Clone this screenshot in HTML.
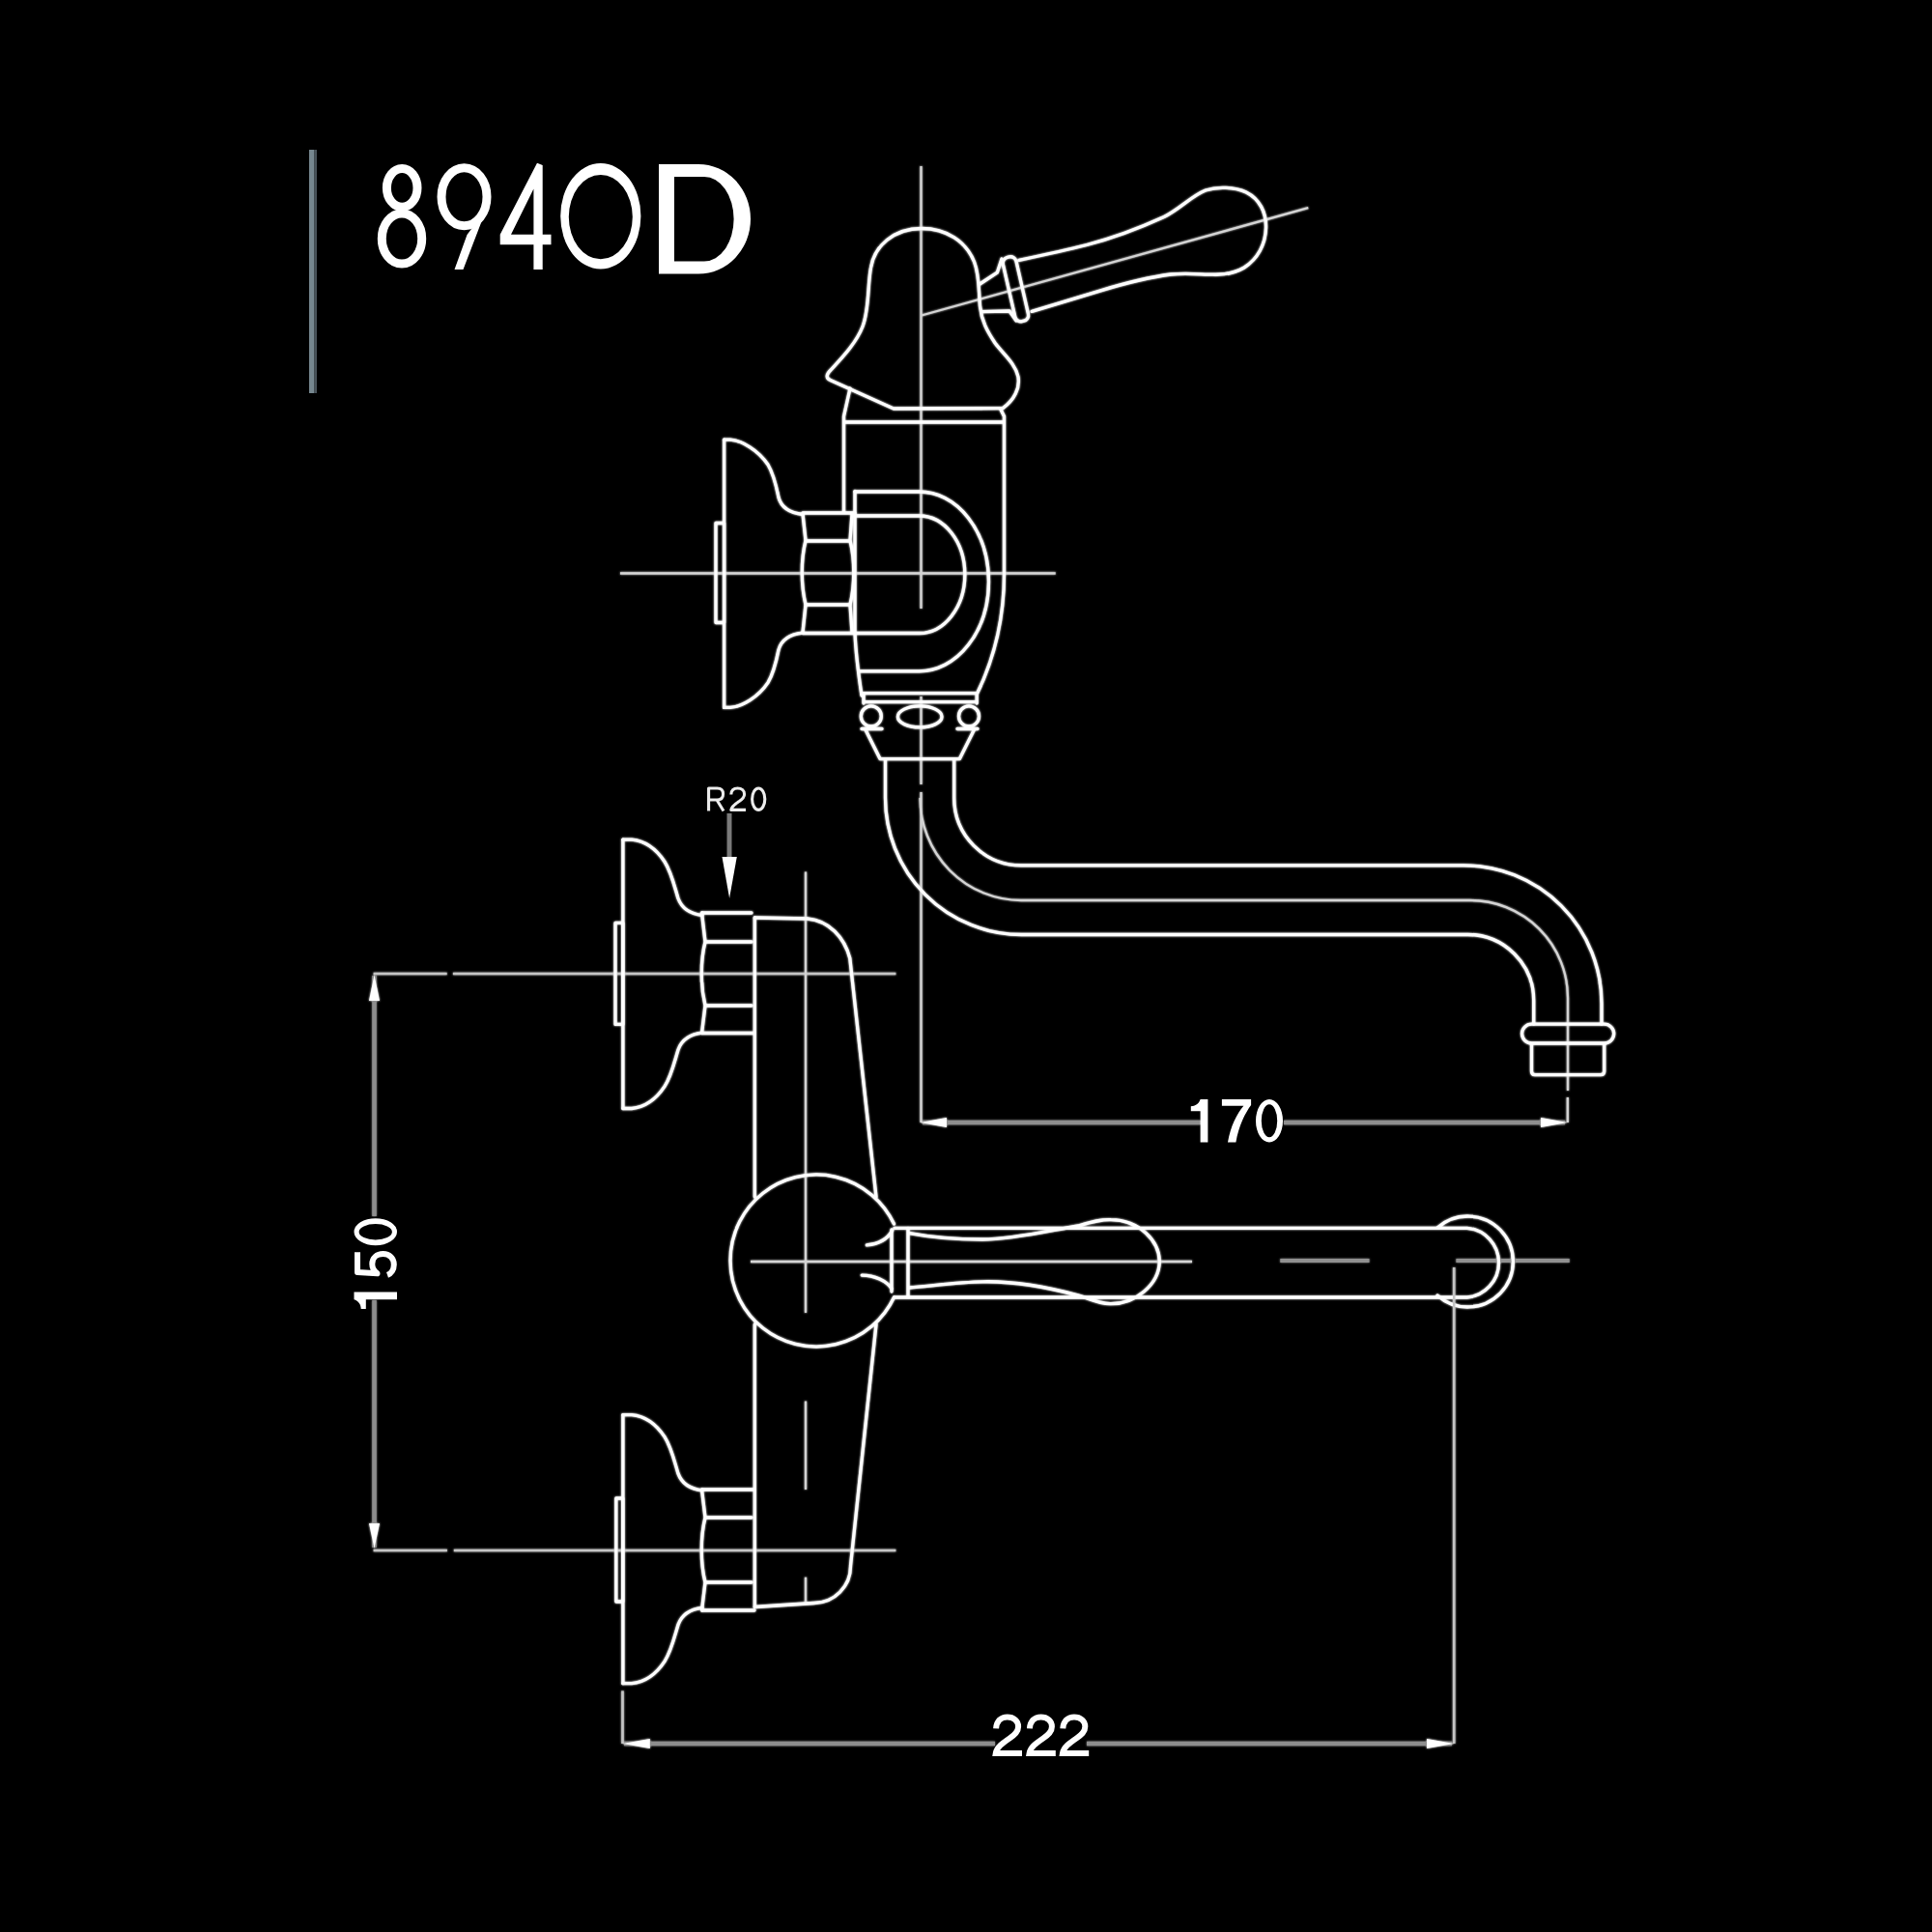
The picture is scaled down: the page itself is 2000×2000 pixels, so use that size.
<!DOCTYPE html>
<html><head><meta charset="utf-8">
<style>
html,body{margin:0;padding:0;background:#000;width:2000px;height:2000px;overflow:hidden}
svg{display:block}
.o{fill:none;stroke:#fff;stroke-width:3.3;stroke-linejoin:round;stroke-linecap:round}
.c{fill:none;stroke:#d4d4d4;stroke-width:2.3}
.k{fill:none;stroke:#909090;stroke-width:4.2}
.d{fill:none;stroke:#8e8e8e;stroke-width:4.5}
.e{fill:none;stroke:#c4c4c4;stroke-width:2.6}
.a{fill:#fff;stroke:none}
.t{font-family:"Liberation Sans",sans-serif;fill:#fff;font-size:62px}
.tt{fill:none;stroke:#fff;stroke-width:9}
</style></head>
<body>
<svg style="will-change:transform" width="2000" height="2000" viewBox="0 0 2000 2000">
<rect x="0" y="0" width="2000" height="2000" fill="#000"/>
<defs>
  <path id="g1" fill="#fff" d="M9.8,-44.5 H17.6 V0 H9.8 V-32.2 H0 V-37.3 C4.5,-37.3 8.5,-40 9.8,-44.5 Z"/>
  <path id="g7" fill="#fff" d="M0,-44.5 H30.2 V-38.4 C24,-30 17.5,-17 14.5,0 H6.1 C9,-17 15.5,-29.5 22.5,-37.8 H0 Z"/>
  <path id="g0" fill="#fff" fill-rule="evenodd" d="M0,-22.25 A14,22.25 0 1 0 28,-22.25 A14,22.25 0 1 0 0,-22.25 Z M5.8,-22.25 A8.2,17.1 0 1 0 22.2,-22.25 A8.2,17.1 0 1 0 5.8,-22.25 Z"/>
  <path id="g5" fill="none" stroke="#fff" stroke-width="6" stroke-linejoin="round" d="M27,-41 H6.2 L5,-20.5 C7.5,-24 11,-25.7 14.8,-25.7 C21.2,-25.7 25.2,-21 25.2,-14.4 C25.2,-7.8 20.8,-3.2 14.3,-3.2 C9,-3.2 4.8,-6 3.4,-10"/>
  <path id="g2" fill="none" stroke="#fff" stroke-width="6" d="M3.8,-28.5 C4.3,-36.5 9,-40.4 15.5,-40.4 C22,-40.4 26.8,-36.5 26.8,-30.5 C26.8,-25 23,-22 18,-18.5 C10,-13 4.5,-9 3.5,-3 H30.7"/>
  <filter id="halo" x="0" y="0" width="2000" height="2000" filterUnits="userSpaceOnUse">
    <feGaussianBlur in="SourceGraphic" stdDeviation="1.1" result="b"/>
    <feComponentTransfer in="b" result="h"><feFuncA type="linear" slope="1.0"/></feComponentTransfer>
    <feMerge><feMergeNode in="h"/><feMergeNode in="SourceGraphic"/></feMerge>
  </filter>
</defs>


<!-- ===== TITLE ===== -->
<g id="title">
  <rect x="320" y="155" width="5.5" height="252" fill="#76878f"/>
  <rect x="325.5" y="155" width="2.5" height="252" fill="#485259"/>
  <!-- 8 -->
  <ellipse class="tt" cx="416.2" cy="194.4" rx="15.8" ry="19.9" stroke-width="8.5"/>
  <ellipse class="tt" cx="416" cy="247" rx="20.7" ry="26.1" stroke-width="8.5"/>
  <!-- 9 -->
  <ellipse class="tt" cx="480.5" cy="203.7" rx="23.5" ry="30" stroke-width="9"/>
  <path fill="#fff" d="M470.5,279 L479.5,279 L504,215 L497,225 L483.5,243 Z"/>
  <!-- 4 -->
  <path fill="#fff" fill-rule="evenodd" d="M556,168.8 L561.7,171 V242.8 H570.5 V253.2 H561.7 V279 H552.4 V253.2 H517.7 V242.8 Z M529,242.8 L552.4,195.5 V242.8 Z"/>
  <!-- 0 -->
  <path fill="#fff" fill-rule="evenodd" d="M580.2,223.75 A41.6,54.65 0 1 0 663.4,223.75 A41.6,54.65 0 1 0 580.2,223.75 Z M588.8,224.6 A33,43.6 0 1 0 654.8,224.6 A33,43.6 0 1 0 588.8,224.6 Z"/>
  <!-- D -->
  <path fill="#fff" fill-rule="evenodd" d="M682,170 L723,170 A54,56.75 0 0 1 777,226.75 A54,56.75 0 0 1 723,283.5 L682,283.5 Z M698,183 L729,183 A30.6,43.75 0 0 1 759.6,226.75 A30.6,43.75 0 0 1 729,270.5 L698,270.5 Z"/>
</g>

<!-- ===== TOP VIEW ===== -->
<g filter="url(#halo)">
<g id="top">
  <!-- centerlines -->
  <path class="c" d="M953.5,172 V630 M953.5,721 V812 M953.5,820 V1162"/>
  <path class="c" d="M642,593.5 H1092.7"/>
  <!-- lever axis -->
  <path class="c" d="M954,326.5 L1354.3,215.2"/>

  <!-- cap -->
  <path class="o" d="M954,236.5 C925,236.5 905,255 901.5,277 C898,295 900,320 893,338 C886,356 870,372 860,383 C855,388 855,391.5 859.5,393.5 L925,423  L1038.1,422.7 C1050,414 1056,402 1054,390 C1051,376 1038,366 1030,355 C1022,343 1016,332 1014.5,317 C1013,300 1014,285 1008.5,271 C1000,250 980,236.5 954,236.5 Z"/>
  <!-- collar + body -->
  <path class="o" d="M880,402 L873.5,431 V530"/>
  <path class="o" d="M1036,424 L1039.5,431 V594 C1039.5,640 1030,680 1011.5,718"/>
  <path class="o" d="M875,437 H1038.5"/>

  <!-- lever neck -->
  <path class="o" d="M1014.3,294 L1032.3,282.2 L1037,268"/>
  <path class="o" d="M1016,322.6 L1045,322 L1052,332"/>
  <rect class="o" x="-7" y="-34" width="14" height="68" rx="6" transform="translate(1051.4,299.3) rotate(-12.9)"/>
  <!-- lever body -->
  <path class="o" d="M1054.9,269.4 C1080,264 1105,258.5 1125,253.5 C1152,246.5 1182,235 1205,224.5 C1222,216 1233,203 1248,197 C1260,193 1278,193.5 1290,199 C1304,206 1311,220 1310.5,236 C1310,253 1302,268 1288,277 C1278,283 1268,284.5 1256,284.2 C1242,284 1228,282.5 1212,284 C1188,287 1162,294 1139.4,300.8 C1125,305 1110,309.5 1068.2,322.4"/>

  <!-- wall flange -->
  <path class="o" d="M749.6,455.2 V732.4"/>
  <rect class="o" x="741" y="541.5" width="8.6" height="103" />
  <path class="o" d="M749.6,455.2 H756 C768,456 785,466 795,481 C801,491 804,505 806,515 C809,526 818,531 831,532.5"/>
  <path class="o" d="M749.6,732.4 H756 C768,731.6 785,721.6 795,706.6 C801,696.6 804,682.6 806,672.6 C809,661.6 818,656.6 831,655.1"/>
  <!-- nut -->
  <path class="o" d="M831,532 L834,559.5 C829,580 829,605 834,626 L831,654.5"/>
  <path class="o" d="M882,532 L880,559.5 C885,580 885,605 880,626 L882,654.5"/>
  <path class="o" d="M831,531 H885 M834.5,560 H880 M834.5,626 H880 M831,655.5 H885"/>

  <!-- D-shape -->
  <path class="o" d="M885,508.5 V655 C886,680 889,700 892,720"/>
  <path class="o" d="M885,509 H951.7 A71.4,92.4 0 0 1 951.7,694.8 H890"/>
  <path class="o" d="M885,534 H951.7 A46.4,59.8 0 0 1 951.7,655.5 H885"/>

  <!-- collar rings -->
  <path class="o" d="M894,717.7 H1011.2 M894,726.6 H1011.2 M894,717.7 V728 M1011.2,717.7 V728 M892,754.5 H913 M991,754.5 H1012"/>
  <ellipse class="o" cx="901.8" cy="741.4" rx="10.5" ry="10.5"/>
  <ellipse class="o" cx="952.2" cy="741.9" rx="22.8" ry="11"/>
  <ellipse class="o" cx="1003" cy="741.4" rx="10.5" ry="10.5"/>
  <path class="o" d="M895.5,754.5 L911,785.6 H993.4 L1008.9,754.5"/>

  <!-- spout -->
  <path class="o" d="M987.7,786 V826 A69.3,69.8 0 0 0 1057,895.8 H1515 A143,143 0 0 1 1658,1038.8 V1060"/>
  <path class="c" d="M952.5,826 A104.5,106 0 0 0 1057,932 H1522 A101,101 0 0 1 1623,1033 V1129 M1622.8,1136 V1162"/>
  <path class="o" d="M916.5,786 V826 A141,141.5 0 0 0 1057.5,967.5 H1519.5 A68.2,68.2 0 0 1 1587.7,1035.7 V1060"/>
  <!-- aerator -->
  <path class="o" d="M1585.5,1060.2 H1660.7 A10,9.9 0 0 1 1660.7,1080 H1585.5 A10,9.9 0 0 1 1585.5,1060.2 Z"/>
  <path class="o" d="M1585.5,1081 V1109 Q1585.5,1112.7 1589,1112.7 H1657 Q1660.7,1112.7 1660.7,1109 V1081"/>

  <!-- dimension 170 -->
  <path class="d" d="M955,1162 H1243 M1329,1162 H1620"/>
  <path class="a" d="M952.5,1162 L980,1157 L980,1167 Z"/>
  <path class="a" d="M1622.6,1162 L1595,1157 L1595,1167 Z"/>
  
</g>

<!-- ===== FRONT VIEW ===== -->
<g id="front">
  <!-- centerlines -->
  <path class="e" d="M386.6,1008 H462.7 M468.9,1008 H927.4"/>
  <path class="e" d="M386.6,1605 H462.9 M469.8,1605 H927.4"/>
  <path class="c" d="M834,902.6 V1359 M834,1450.6 V1542 M834,1632.7 V1660"/>
  <path class="c" d="M777,1306 H1234"/>
  <path class="k" d="M1325.3,1305 H1417.5 M1507.4,1305 H1624.7"/>

  <!-- dim 150 -->
  <path class="d" d="M387.5,1010 V1259 M387.5,1346 V1602"/>
  <path class="a" d="M387.5,1009 L382,1036 L393,1036 Z"/>
  <path class="a" d="M387.5,1603 L382,1577 L393,1577 Z"/>
  

  <!-- upper flange -->
  <path class="o" d="M644.9,869.2 V1147.5"/>
  <rect class="o" x="637" y="955.4" width="7.9" height="105"/>
  <path class="o" d="M644.9,869.2 H654 C668,870.5 680,880 688,892 C695,903 698,917 702,930 C706,941 714,946 727,947.5"/>
  <path class="o" d="M644.9,1147.5 H654 C668,1146.2 680,1136.7 688,1124.7 C695,1113.7 698,1099.7 702,1086.7 C706,1075.7 714,1070.7 727,1069.2"/>
  <!-- upper nut -->
  <path class="o" d="M726.5,945 L730,975 C725,995 725,1020 730,1041 L726.5,1069.5"/>
  <path class="o" d="M727,945 H778 M730.5,975 H778 M730.5,1041 H778 M727,1069.5 H781"/>

  <!-- lower flange -->
  <path class="o" d="M644.9,1464.6 V1742.7"/>
  <rect class="o" x="637.8" y="1551" width="7" height="107"/>
  <path class="o" d="M644.9,1464.6 H654 C668,1465.9 680,1475.4 688,1487.4 C695,1498.4 698,1512.4 702,1525.4 C706,1536.4 714,1541.4 727,1542.9"/>
  <path class="o" d="M644.9,1742.7 H654 C668,1741.4 680,1731.9 688,1719.9 C695,1708.9 698,1694.9 702,1681.9 C706,1670.9 714,1665.9 727,1664.4"/>
  <!-- lower nut -->
  <path class="o" d="M726.5,1542 L730,1571 C725,1591 725,1618 730,1638 L726.5,1667"/>
  <path class="o" d="M727,1542 H781 M730.5,1571 H778 M730.5,1638 H778 M727,1667 H781"/>

  <!-- body -->
  <path class="o" d="M781.3,950 V1239 M781.3,1371 V1663.5"/>
  <path class="o" d="M781.3,950 L835.8,951 C858,953 874,970 879.8,992 L907,1239"/>
  <path class="o" d="M907,1371 L880.5,1621 A38,38 0 0 1 842.5,1659.5 L781.3,1663.5"/>

  <!-- lever base circle -->
  <path class="o" d="M925.5,1267 A89,89 0 1 0 925.5,1343"/>
  <!-- fins -->
  <path class="o" d="M897.3,1288.8 C908,1288 918,1284 923.8,1273.6"/>
  <path class="o" d="M892.2,1320.1 C905,1320 918,1326 923.2,1334.2"/>
  <!-- collar -->
  <path class="o" d="M923,1273 V1337 M940,1271.3 V1342.6"/>
  <path class="o" d="M925.9,1271.3 H1518.8 A36,36 0 0 1 1518.8,1343 H925.9"/>
  <!-- lever -->
  <path class="o" d="M941.6,1276.6 C970,1282 1000,1283 1017,1283 C1050,1283 1090,1273 1116,1269 C1130,1265 1140,1262 1150,1262.6 C1180,1263 1200,1285 1200.3,1305.7 C1200,1330 1175,1350 1149.3,1349.7 C1135,1349 1128,1344 1115.8,1340.9 C1090,1334 1050,1326 1017.3,1326.8 C995,1327 965,1331 941.6,1333"/>
  <!-- pipe end -->
  <path class="o" d="M1488,1271 A47,47 0 1 1 1488,1341"/>

  <!-- dim 222 -->
  <path class="e" d="M644.5,1750.4 V1805"/>
  <path class="e" d="M1505.2,1312 V1805"/>
  <path class="d" d="M646,1805 H1030 M1125,1805 H1503"/>
  <path class="a" d="M644.5,1805 L672.8,1800 L672.8,1810 Z"/>
  <path class="a" d="M1505.2,1805 L1477,1800 L1477,1810 Z"/>
  
</g>
</g>
<g transform="translate(1232.8,1182.5)"><use href="#g1"/><use href="#g7" x="32.1"/><use href="#g0" x="67.2"/></g>
<g transform="translate(411,1359) rotate(-90)"><use href="#g1" x="4"/><use href="#g5" x="35.7"/><use href="#g0" x="69.8"/></g>
<g transform="translate(1027.3,1817.9)"><use href="#g2"/><use href="#g2" x="34.8"/><use href="#g2" x="69.2"/></g>
<!-- R20 -->
<g id="r20">
  <path fill="none" stroke="#ececec" stroke-width="3.1" stroke-linejoin="round" d="M733.6,839.5 V816 H742.5 C746.8,816 748.6,818.6 748.6,822 C748.6,825.6 746.4,828 742.3,828 H733.6 M742,828 L749,839.5"/>
  <path fill="none" stroke="#ececec" stroke-width="3.1" stroke-linejoin="round" d="M756.8,822.5 C757,818.3 759.6,816 763.6,816 C767.8,816 770.6,818.5 770.6,822.2 C770.6,825.5 768.4,827.3 765.2,829.5 C760.5,832.5 757.4,834.8 756.8,838.4 H772"/>
  <ellipse cx="785.2" cy="827.2" rx="6.6" ry="11.2" fill="none" stroke="#ececec" stroke-width="3.1"/>
  <path d="M755,842 V888" stroke="#7a7a7a" stroke-width="5"/>
  <path fill="#fff" d="M747.5,887 L762.8,887 L755.1,929.7 Z"/>
</g>
</svg>
</body></html>
